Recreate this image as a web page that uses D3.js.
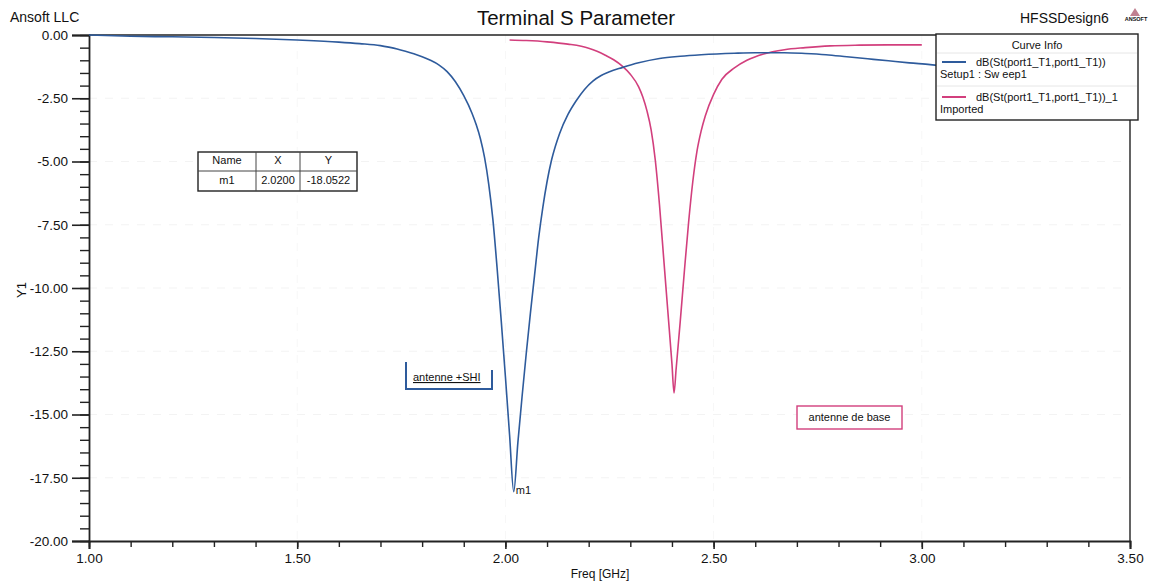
<!DOCTYPE html>
<html>
<head>
<meta charset="utf-8">
<script src="https://cdn.jsdelivr.net/npm/d3@7"></script>
<style>
  html, body { margin: 0; padding: 0; background: #fff; }
  svg text { font-family: "Liberation Sans", Arial, sans-serif; fill: #111; }
</style>
</head>
<body>
<svg id="chart" width="1149" height="584"></svg>
<script>
// Simulated return loss, antenna with SHI (Setup1 : Sweep1)
const simFreq = [1.00, 1.10, 1.20, 1.30, 1.40, 1.50, 1.60, 1.65, 1.70, 1.72, 1.74, 1.76, 1.78, 1.80, 1.82, 1.84, 1.86, 1.88, 1.90,
  1.92, 1.93, 1.94, 1.95, 1.96, 1.97, 1.98, 1.99, 2.00, 2.01, 2.02, 2.03, 2.04, 2.05, 2.06, 2.07, 2.08, 2.09,
  2.10, 2.11, 2.12, 2.13, 2.15, 2.17, 2.19, 2.21, 2.23, 2.25, 2.28, 2.32, 2.37, 2.42, 2.47, 2.55, 2.60, 2.67, 2.72,
  2.77, 2.82, 2.87, 2.92, 2.97, 3.02, 3.05];
const simDb = [0.00, -0.05, -0.07, -0.10, -0.14, -0.20, -0.28, -0.34, -0.42, -0.48, -0.55, -0.64, -0.74, -0.86, -1.00, -1.18, -1.45, -1.85, -2.40,
  -3.10, -3.55, -4.10, -4.85, -5.90, -7.30, -9.20, -11.30, -13.50, -15.80, -18.0522, -16.10, -14.30, -12.60, -11.00, -9.50, -8.00, -6.80,
  -5.80, -5.00, -4.40, -3.90, -3.15, -2.60, -2.15, -1.82, -1.60, -1.45, -1.29, -1.10, -0.93, -0.84, -0.78, -0.72, -0.70, -0.70, -0.73,
  -0.78, -0.86, -0.94, -1.02, -1.10, -1.17, -1.22];

// Imported measurement, base antenna
const measFreq = [2.01, 2.05, 2.10, 2.15, 2.20, 2.22, 2.24, 2.26, 2.28, 2.30, 2.32, 2.33, 2.34, 2.35, 2.36, 2.37, 2.38,
  2.39, 2.40, 2.405, 2.41, 2.42, 2.43, 2.44, 2.45, 2.46, 2.47, 2.48, 2.50, 2.52, 2.55, 2.58, 2.62, 2.67,
  2.72, 2.78, 2.85, 2.92, 3.00];
const measDb = [-0.20, -0.22, -0.27, -0.36, -0.52, -0.64, -0.80, -0.98, -1.22, -1.55, -2.05, -2.45, -3.00, -3.75, -4.95, -6.70, -8.80,
  -10.90, -13.00, -14.15, -13.20, -11.30, -9.30, -7.40, -5.80, -4.60, -3.80, -3.20, -2.35, -1.75, -1.30, -1.00, -0.75, -0.58,
  -0.50, -0.43, -0.40, -0.39, -0.39];

// Axis ticks
const xTicks = [1.00, 1.50, 2.00, 2.50, 3.00, 3.50];
const yTicks = [0, -2.5, -5, -7.5, -10, -12.5, -15, -17.5, -20];

// Marker m1
const markerName = "m1";
const markerX = 2.02;
const markerY = -18.0522;

const curveNames = ["dB(St(port1_T1,port1_T1))", "dB(St(port1_T1,port1_T1))_1"];
const curveSources = ["Setup1 : Sw eep1", "Imported"];

const BLUE = "#2e5b9c";
const PINK = "#d23f7d";

// fixed-decimal formatter with a plain hyphen for negatives
const fmt = n => v => v.toFixed(n);

const svg = d3.select("#chart");
const plotL = 89, plotR = 1130, plotT = 35, plotB = 541;

const x = d3.scaleLinear().domain([1.0, 3.5]).range([plotL, plotR]);
const y = d3.scaleLinear().domain([0, -20]).range([plotT, plotB]);

// faint grid
const grid = svg.append("g");
grid.selectAll("line.h").data(yTicks.slice(1, -1)).join("line")
  .attr("x1", plotL).attr("x2", plotR)
  .attr("y1", d => y(d)).attr("y2", d => y(d))
  .attr("stroke", "#f3f3f3").attr("stroke-dasharray", "8,8");
grid.selectAll("line.v").data(xTicks.slice(1, -1)).join("line")
  .attr("y1", plotT).attr("y2", plotB)
  .attr("x1", d => x(d)).attr("x2", d => x(d))
  .attr("stroke", "#f7f7f7").attr("stroke-dasharray", "8,8");

// frame: top and right edges
svg.append("line").attr("x1", plotL).attr("x2", 936).attr("y1", plotT).attr("y2", plotT)
  .attr("stroke", "#222").attr("stroke-width", 1.6);
svg.append("line").attr("x1", plotR).attr("x2", plotR).attr("y1", 120).attr("y2", plotB)
  .attr("stroke", "#222").attr("stroke-width", 1.4);

// minor ticks
const yMinor = d3.range(0, -20.01, -0.5);
const xMinor = d3.range(1.0, 3.501, 0.1);
svg.append("g").attr("transform", `translate(${plotL},0)`)
  .call(d3.axisLeft(y).tickValues(yMinor).tickSize(9).tickFormat(""))
  .call(g => g.select(".domain").remove())
  .selectAll("line").attr("stroke", "#222").attr("stroke-width", 1.4);
svg.append("g").attr("transform", `translate(0,${plotB})`)
  .call(d3.axisBottom(x).tickValues(xMinor).tickSize(6).tickFormat(""))
  .call(g => g.select(".domain").remove())
  .selectAll("line").attr("stroke", "#222").attr("stroke-width", 1.4);

// major axes
const yAxis = svg.append("g").attr("transform", `translate(${plotL},0)`)
  .call(d3.axisLeft(y).tickValues(yTicks).tickSize(17).tickPadding(4).tickFormat(fmt(2)));
yAxis.select(".domain").attr("stroke", "#222").attr("stroke-width", 1.8);
yAxis.selectAll("line").attr("stroke", "#222").attr("stroke-width", 1.6);
yAxis.selectAll("text").attr("font-size", 13.5).attr("fill", "#111").style("font-family", "Liberation Sans, Arial, sans-serif");

const xAxis = svg.append("g").attr("transform", `translate(0,${plotB})`)
  .call(d3.axisBottom(x).tickValues(xTicks).tickSize(8).tickPadding(4).tickFormat(fmt(2)));
xAxis.select(".domain").attr("stroke", "#222").attr("stroke-width", 1.8);
xAxis.selectAll("line").attr("stroke", "#222").attr("stroke-width", 1.6);
xAxis.selectAll("text").attr("font-size", 13.5).attr("fill", "#111").style("font-family", "Liberation Sans, Arial, sans-serif");

// curves
const line = d3.line().x(d => x(d[0])).y(d => y(d[1])).curve(d3.curveMonotoneX);
svg.append("path").datum(measFreq.map((f, i) => [f, measDb[i]]))
  .attr("d", line).attr("fill", "none").attr("stroke", PINK).attr("stroke-width", 1.6);
svg.append("path").datum(simFreq.map((f, i) => [f, simDb[i]]))
  .attr("d", line).attr("fill", "none").attr("stroke", BLUE).attr("stroke-width", 1.6);

// marker label
svg.append("text").attr("x", x(markerX) + 2).attr("y", y(markerY) - 1)
  .attr("font-size", 11).attr("dominant-baseline", "middle").text(markerName);

// titles
svg.append("text").attr("x", 576).attr("y", 25).attr("text-anchor", "middle")
  .attr("font-size", 20.5).text("Terminal S Parameter");
svg.append("text").attr("x", 10).attr("y", 22).attr("font-size", 14).text("Ansoft LLC");
svg.append("text").attr("x", 1020).attr("y", 23).attr("font-size", 14).text("HFSSDesign6");
// small logo
svg.append("path").attr("d", "M1135,8 L1140,16 L1130,16 Z").attr("fill", "#c08090");
svg.append("text").attr("x", 1136).attr("y", 21).attr("text-anchor", "middle")
  .attr("font-size", 5.5).attr("font-weight", "bold").attr("fill", "#555").text("ANSOFT");

// axis titles
svg.append("text").attr("x", 600).attr("y", 578).attr("text-anchor", "middle")
  .attr("font-size", 12).text("Freq [GHz]");
svg.append("text").attr("transform", "translate(26,290) rotate(-90)").attr("text-anchor", "middle")
  .attr("font-size", 13).text("Y1");

// legend
const lg = svg.append("g");
lg.append("rect").attr("x", 936).attr("y", 34).attr("width", 202).attr("height", 86)
  .attr("fill", "#fff").attr("stroke", "#222").attr("stroke-width", 1.4);
lg.append("text").attr("x", 1037).attr("y", 49).attr("text-anchor", "middle").attr("font-size", 11).text("Curve Info");
[53, 86].forEach(yy => lg.append("line").attr("x1", 937).attr("x2", 1137).attr("y1", yy).attr("y2", yy)
  .attr("stroke", "#e6e6e6"));
const colors = [BLUE, PINK];
curveNames.forEach((name, i) => {
  const y0 = 62 + i * 35;
  lg.append("line").attr("x1", 942).attr("x2", 966).attr("y1", y0).attr("y2", y0)
    .attr("stroke", colors[i]).attr("stroke-width", 2);
  lg.append("text").attr("x", 976).attr("y", y0 + 4).attr("font-size", 11).text(name);
  lg.append("text").attr("x", 940).attr("y", y0 + 16).attr("font-size", 11).text(curveSources[i]);
});

// marker table
const tb = svg.append("g");
const tX = 198, tY = 152, colW = [58, 44, 57], rowH = [19, 20];
const tW = d3.sum(colW), tH = d3.sum(rowH);
tb.append("rect").attr("x", tX).attr("y", tY).attr("width", tW).attr("height", tH)
  .attr("fill", "#fff").attr("stroke", "#222").attr("stroke-width", 1.4);
tb.append("line").attr("x1", tX).attr("x2", tX + tW).attr("y1", tY + rowH[0]).attr("y2", tY + rowH[0])
  .attr("stroke", "#444");
let cx = tX;
const cells = [["Name", "X", "Y"], [markerName, fmt(4)(markerX), fmt(4)(markerY)]];
colW.forEach((w, i) => {
  if (i > 0) tb.append("line").attr("x1", cx).attr("x2", cx).attr("y1", tY).attr("y2", tY + tH).attr("stroke", "#444");
  cells.forEach((row, r) => {
    tb.append("text").attr("x", cx + w / 2).attr("y", tY + (r === 0 ? rowH[0] / 2 : rowH[0] + rowH[1] / 2))
      .attr("text-anchor", "middle").attr("dominant-baseline", "middle").attr("font-size", 11).text(row[i]);
  });
  cx += w;
});

// annotation: antenne +SHI
const a1 = svg.append("g");
a1.append("path").attr("d", "M406,362 L406,389 L492,389 L492,370")
  .attr("fill", "none").attr("stroke", BLUE).attr("stroke-width", 2);
a1.append("text").attr("x", 413).attr("y", 381).attr("font-size", 11)
  .attr("text-decoration", "underline").text("antenne +SHI");

// annotation: antenne de base
const a2 = svg.append("g");
a2.append("rect").attr("x", 797).attr("y", 406).attr("width", 105).attr("height", 23)
  .attr("fill", "#fff").attr("stroke", PINK).attr("stroke-width", 1.4);
a2.append("text").attr("x", 849.5).attr("y", 418).attr("text-anchor", "middle").attr("dominant-baseline", "middle")
  .attr("font-size", 11).text("antenne de base");
</script>
</body>
</html>
